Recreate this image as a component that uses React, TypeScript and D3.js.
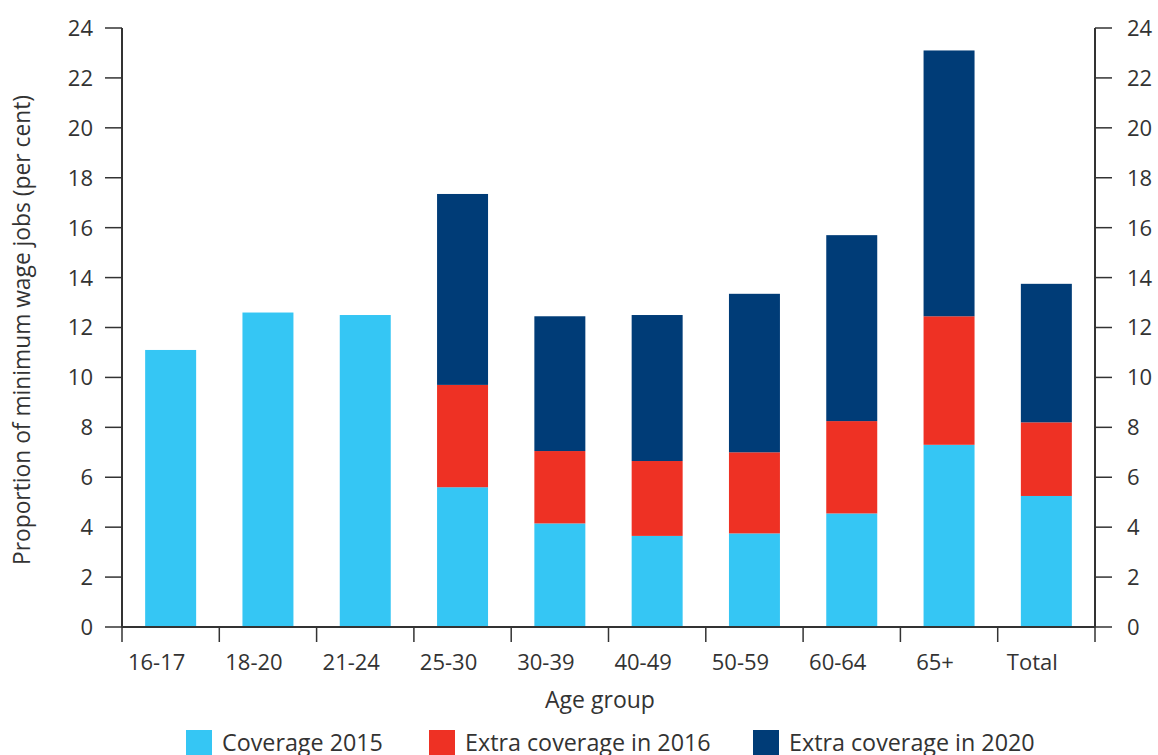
import React from "react";
import * as d3 from "d3";

const categories = ["16-17", "18-20", "21-24", "25-30", "30-39", "40-49", "50-59", "60-64", "65+", "Total"];
const coverage2015 = [11.1, 12.6, 12.5, 5.6, 4.15, 3.65, 3.75, 4.55, 7.3, 5.25];
const extra2016 = [0, 0, 0, 4.1, 2.9, 3.0, 3.25, 3.7, 5.15, 2.95];
const extra2020 = [0, 0, 0, 7.65, 5.4, 5.85, 6.35, 7.45, 10.65, 5.55];
const yTicks = [0, 2, 4, 6, 8, 10, 12, 14, 16, 18, 20, 22, 24];
const seriesNames = ["Coverage 2015", "Extra coverage in 2016", "Extra coverage in 2020"];
const colors = ["#35C6F4", "#EE3124", "#003C77"];

const W = 1158, H = 755;
const left = 122, right = 1095, top = 28, bottom = 627;
const font = "'Open Sans', Roboto, sans-serif";
const textColor = "#333333";

export default function App() {
  const x = d3.scaleBand<string>().domain(categories).range([left, right]).paddingInner(0.476).paddingOuter(0.238);
  const y = d3.scaleLinear().domain([0, 24]).range([bottom, top]);
  const rows = categories.map((c, i) => ({ c, s0: coverage2015[i], s1: extra2016[i], s2: extra2020[i] }));
  const stack = d3.stack<any>().keys(["s0", "s1", "s2"])(rows);
  const step = x.step();

  return (
    <svg width={W} height={H} style={{ position: "absolute", left: 0, top: 0 }} fontFamily={font}>
      <rect width={W} height={H} fill="#fff" />
      {stack.map((layer, li) => (
        <g key={li} fill={colors[li]}>
          {layer.map((d, i) =>
            d[1] - d[0] > 0 ? (
              <rect key={i} x={x(categories[i])} width={x.bandwidth()} y={y(d[1])} height={y(d[0]) - y(d[1])} />
            ) : null
          )}
        </g>
      ))}
      <line x1={left} x2={left} y1={top} y2={bottom} stroke={textColor} strokeWidth={2} />
      <line x1={right} x2={right} y1={top} y2={bottom} stroke={textColor} strokeWidth={2} />
      {yTicks.map((t) => (
        <g key={t}>
          <line x1={left - 17} x2={left} y1={y(t)} y2={y(t)} stroke={textColor} strokeWidth={1.5} />
          <line x1={right} x2={right + 17} y1={y(t)} y2={y(t)} stroke={textColor} strokeWidth={1.5} />
          <text x={93} y={y(t)} dy="0.36em" textAnchor="end" fontSize={22} fill={textColor}>{t}</text>
          <text x={1127} y={y(t)} dy="0.36em" textAnchor="start" fontSize={22} fill={textColor}>{t}</text>
        </g>
      ))}
      <line x1={left} x2={right} y1={bottom} y2={bottom} stroke={textColor} strokeWidth={2} />
      {d3.range(categories.length + 1).map((i) => (
        <line key={i} x1={left + i * step} x2={left + i * step} y1={bottom} y2={bottom + 15} stroke={textColor} strokeWidth={1.5} />
      ))}
      {categories.map((c) => (
        <text key={c} x={(x(c) as number) + x.bandwidth() / 2 - 14} y={670} textAnchor="middle" fontSize={22} fill={textColor}>{c}</text>
      ))}
      <text x={600} y={708} textAnchor="middle" fontSize={23} fill={textColor}>Age group</text>
      <text transform={`translate(30,330) rotate(-90)`} textAnchor="middle" fontSize={22.8} fill={textColor}>
        Proportion of minimum wage jobs (per cent)
      </text>
      {[186, 429, 753].map((lx, i) => (
        <g key={i}>
          <rect x={lx} y={730} width={26} height={26} fill={colors[i]} />
          <text x={lx + 36} y={751} fontSize={23.3} fill={textColor}>{seriesNames[i]}</text>
        </g>
      ))}
    </svg>
  );
}
